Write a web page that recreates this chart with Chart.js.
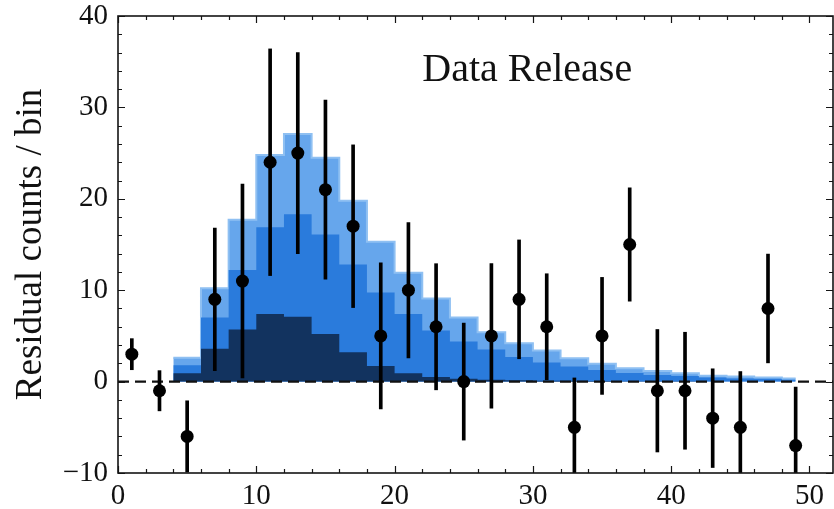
<!DOCTYPE html>
<html>
<head>
<meta charset="utf-8">
<script src="https://cdn.jsdelivr.net/npm/chart.js@4.4.1/dist/chart.umd.min.js"></script>
<style>
  html, body { margin: 0; padding: 0; background: #ffffff; }
  #wrap { width: 834px; height: 509px; position: relative; }
</style>
</head>
<body>
<div id="wrap"><canvas id="c" width="834" height="509"></canvas></div>
<script>
// ---------------- data ----------------
const X_MIN = 0, X_MAX = 51.7;
const Y_MIN = -10, Y_MAX = 40;

const binEdges = [4, 6, 8, 10, 12, 14, 16, 18, 20, 22, 24, 26, 28, 30, 32, 34, 36, 38, 40, 42, 44, 46, 48, 49];
const lightTop = [2.6, 10.2, 17.7, 24.8, 27.1, 24.5, 19.8, 15.3, 11.9, 9.1, 7.0, 5.4, 4.2, 3.4, 2.55, 1.95, 1.45, 1.15, 0.9, 0.65, 0.55, 0.45, 0.35];
const midTop   = [1.8, 7.0, 12.2, 16.9, 18.3, 16.1, 12.8, 9.75, 7.4, 5.6, 4.4, 3.5, 2.7, 2.1, 1.65, 1.28, 0.95, 0.73, 0.6, 0.45, 0.35, 0.3, 0.2];
const darkTop  = [0.9, 3.6, 5.7, 7.4, 7.1, 5.2, 3.2, 1.7, 0.9, 0.5, 0.3, 0.2, 0.15, 0.1, 0.08, 0.06, 0.05, 0.04, 0.03, 0.02, 0.02, 0.01, 0.01];

const pointX   = [1, 3, 5, 7, 9, 11, 13, 15, 17, 19, 21, 23, 25, 27, 29, 31, 33, 35, 37, 39, 41, 43, 45, 47, 49];
const pointY   = [3, -1, -6, 9, 11, 24, 25, 21, 17, 5, 10, 6, 0, 5, 9, 6, -5, 5, 15, -1, -1, -4, -5, 8, -7];
const pointErr = [1.7, 2.2, 3.9, 7.8, 10.6, 12.4, 11, 9.8, 8.9, 8, 7.4, 6.9, 6.4, 7.9, 6.5, 5.8, 5.4, 6.4, 6.2, 6.7, 6.4, 5.4, 6.1, 5.95, 6.4];

const xMajorTicks = [0, 10, 20, 30, 40, 50];
const yMajorTicks = [-10, 0, 10, 20, 30, 40];
const annotationText = 'Data Release';
const yAxisTitle = 'Residual counts / bin';

function stepData(edges, vals) {
  const pts = vals.map((v, i) => ({ x: edges[i], y: v }));
  pts.push({ x: edges[edges.length - 1], y: vals[vals.length - 1] });
  return pts;
}
const SERIF = '"Liberation Serif", "Times New Roman", serif';

const framePlugin = {
  id: 'frame',
  afterDraw(chart) {
    const { ctx, chartArea: a, scales } = chart;
    const xs = scales.x, ys = scales.y;
    ctx.save();
    ctx.strokeStyle = '#151515';
    ctx.lineWidth = 1.2;
    for (let v = X_MIN; v <= X_MAX; v += 2) {
      const px = Math.round(xs.getPixelForValue(v)) + 0.5;
      const len = xMajorTicks.includes(v) ? 7 : 4;
      ctx.beginPath();
      ctx.moveTo(px, a.bottom); ctx.lineTo(px, a.bottom - len);
      ctx.moveTo(px, a.top); ctx.lineTo(px, a.top + len);
      ctx.stroke();
    }
    for (let v = Y_MIN; v <= Y_MAX; v += 2) {
      const py = Math.round(ys.getPixelForValue(v)) + 0.5;
      const len = yMajorTicks.includes(v) ? 7 : 4;
      ctx.beginPath();
      ctx.moveTo(a.left, py); ctx.lineTo(a.left + len, py);
      ctx.moveTo(a.right, py); ctx.lineTo(a.right - len, py);
      ctx.stroke();
    }
    ctx.lineWidth = 1.6;
    ctx.strokeRect(a.left, a.top, a.right - a.left, a.bottom - a.top);
    ctx.fillStyle = '#111';
    ctx.font = '40px ' + SERIF;
    ctx.textAlign = 'left';
    ctx.textBaseline = 'alphabetic';
    ctx.fillText(annotationText, xs.getPixelForValue(22.0), ys.getPixelForValue(32.9));
    ctx.restore();
  }
};

const minusFmt = v => (v < 0 ? '\u2212' + Math.abs(v) : String(v));

new Chart(document.getElementById('c'), {
  type: 'line',
  data: {
    datasets: [
      { label: 'points', type: 'line', order: 0,
        data: pointX.map((x, i) => ({ x, y: pointY[i] })),
        showLine: false, pointRadius: 6.5, pointHoverRadius: 6.5,
        pointBackgroundColor: '#000', pointBorderWidth: 0 },
      { label: 'errors', type: 'bar', order: 1,
        data: pointX.map((x, i) => ({ x, y: [pointY[i] - pointErr[i], pointY[i] + pointErr[i]] })),
        backgroundColor: '#000', borderWidth: 0, barThickness: 3, borderSkipped: false },
      { label: 'zero', type: 'line', order: 2,
        data: [{ x: X_MIN, y: 0 }, { x: X_MAX, y: 0 }],
        borderColor: '#111', borderWidth: 2.2, borderDash: [11, 6], pointRadius: 0, fill: false },
      { label: 'dark', type: 'line', order: 3,
        data: stepData(binEdges, darkTop), stepped: 'before',
        borderWidth: 0, borderColor: 'rgba(0,0,0,0)', pointRadius: 0,
        fill: 'origin', backgroundColor: '#12335f' },
      { label: 'mid', type: 'line', order: 4,
        data: stepData(binEdges, midTop), stepped: 'before',
        borderWidth: 0, borderColor: 'rgba(0,0,0,0)', pointRadius: 0,
        fill: 'origin', backgroundColor: '#2a7bdc' },
      { label: 'light', type: 'line', order: 5,
        data: stepData(binEdges, lightTop), stepped: 'before',
        borderWidth: 2, borderColor: '#8fc0f2', pointRadius: 0,
        fill: 'origin', backgroundColor: '#66a6ec' }
    ]
  },
  options: {
    responsive: false,
    animation: false,
    events: [],
    layout: { autoPadding: false, padding: { top: 16, right: 1, left: 0, bottom: 0 } },
    plugins: { legend: { display: false }, tooltip: { enabled: false }, title: { display: false } },
    scales: {
      x: {
        type: 'linear', min: X_MIN, max: X_MAX, offset: false,
        grid: { display: false, drawTicks: false },
        border: { display: false },
        ticks: {
          stepSize: 10, includeBounds: false, autoSkip: false, maxRotation: 0,
          padding: 6, color: '#111', font: { family: SERIF, size: 29 },
          callback: minusFmt
        },
        afterFit(s) { s.height = 36; s.paddingLeft = 0; s.paddingRight = 0; }
      },
      y: {
        type: 'linear', min: Y_MIN, max: Y_MAX,
        grid: { display: false, drawTicks: false },
        border: { display: false },
        ticks: {
          stepSize: 10, includeBounds: false, autoSkip: false,
          padding: 10, color: '#111', font: { family: SERIF, size: 29 },
          callback: minusFmt
        },
        title: {
          display: true, text: yAxisTitle, color: '#111',
          font: { family: SERIF, size: 37 }, padding: { top: 9, bottom: 0 }
        },
        afterFit(s) { s.width = 118; s.paddingTop = 0; s.paddingBottom = 0; }
      }
    }
  },
  plugins: [framePlugin]
});
</script>
</body>
</html>
